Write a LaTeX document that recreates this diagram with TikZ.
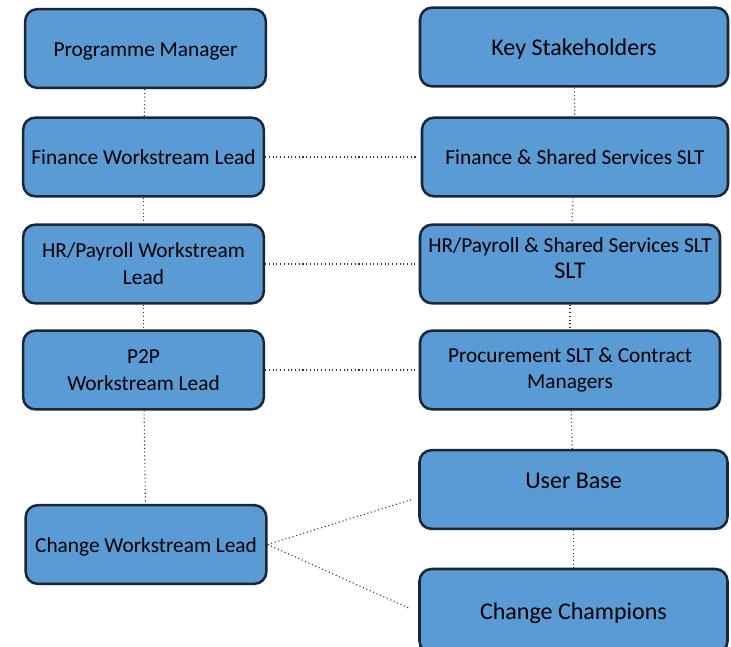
\documentclass[tikz,border=0pt]{standalone}
\usepackage{fontspec}
\setmainfont{Carlito}
\usepackage{xcolor}
\definecolor{boxblue}{HTML}{5B9BD5}
\definecolor{boxline}{HTML}{1A2736}
\definecolor{linkgray}{HTML}{333333}
\begin{document}
\begin{tikzpicture}[x=0.75pt,y=-0.75pt,
    role/.style={draw=boxline,fill=boxblue,line width=1.9pt,rounded corners=9pt,
      align=center,font=\fontsize{16}{20}\selectfont,minimum height=59pt,inner sep=2pt},
    line1/.style={text height=11.5pt,text depth=0pt},
    lead/.style={role,minimum width=180.5pt},
    group/.style={role,minimum width=227pt},
    big/.style={font=\fontsize{18}{21}\selectfont,text height=12.5pt,text depth=0pt},
    link/.style={draw=linkgray,line width=0.8pt,dotted}]

    \clip (0,0) rectangle (731,646);

    \node[lead,line1] (pm)  at (145.5,48.5) {Programme Manager};
    \node[lead,line1] (fwl) at (143.5,157) {Finance Workstream Lead};
    \node[lead] (hwl) at (143.5,264) {HR/Payroll Workstream\\Lead};
    \node[lead] (pwl) at (143.5,370) {P2P\\Workstream Lead};
    \node[lead,line1] (cwl) at (146,544.5) {Change Workstream Lead};

    \node[group,big,minimum width=231pt] (ks) at (574,47) {Key Stakeholders};
    \node[group,line1,minimum width=229.5pt] (fss) at (575,157) {Finance \& Shared Services SLT};
    \node[group,minimum width=225pt,text depth=9pt] (hss) at (570,264) {HR/Payroll \& Shared Services SLT\\{\fontsize{18}{21}\selectfont SLT}};
    \node[group,minimum width=225pt] (pcm) at (570,370) {Procurement SLT \& Contract\\Managers};
    \node[group,big,minimum width=231pt,text depth=14pt] (ub) at (573.5,489.5) {User Base};
    \node[group,big,minimum width=231pt,minimum height=63pt] (cc) at (573.5,611) {Change Champions};

    \draw[link] (pm) -- (fwl);
    \draw[link] (fwl) -- (hwl);
    \draw[link] (hwl) -- (pwl);
    \draw[link] (pwl) -- (cwl);

    \draw[link] (ks) -- (fss);
    \draw[link] (fss) -- (hss);
    \draw[link] (hss) -- (pcm);
    \draw[link] (pcm) -- (ub);
    \draw[link] (ub) -- (cc);

    \draw[link,shorten >=3pt] (fwl.east) -- (fss.west);
    \draw[link,shorten >=3pt] (hwl.east) -- (hss.west);
    \draw[link,shorten >=3pt] (pwl.east) -- (pcm.west);
    \draw[link,shorten >=5pt] (cwl.east) -- ([yshift=-6pt]ub.west);
    \draw[link,shorten >=8pt] (cwl.east) -- ([yshift=-1pt]cc.west);

  \end{tikzpicture}
\end{document}
